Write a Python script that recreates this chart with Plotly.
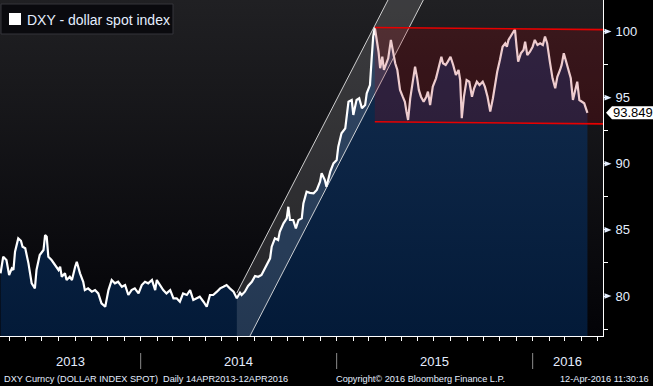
import plotly.graph_objects as go
import pandas as pd

# ---------------- data ----------------
dates = [
    "2013-04-15", "2013-04-20", "2013-04-26", "2013-05-01", "2013-05-06", "2013-05-09", "2013-05-12",
    "2013-05-18", "2013-05-23", "2013-05-26", "2013-05-31", "2013-06-06", "2013-06-12", "2013-06-18",
    "2013-06-21", "2013-06-27", "2013-07-04", "2013-07-07", "2013-07-10", "2013-07-13", "2013-07-19",
    "2013-07-25", "2013-08-01", "2013-08-04", "2013-08-07", "2013-08-13", "2013-08-16", "2013-08-22",
    "2013-08-26", "2013-09-01", "2013-09-04", "2013-09-10", "2013-09-16", "2013-09-19", "2013-09-25",
    "2013-10-02", "2013-10-08", "2013-10-14", "2013-10-20", "2013-10-27", "2013-11-02", "2013-11-08",
    "2013-11-14", "2013-11-20", "2013-11-27", "2013-12-03", "2013-12-09", "2013-12-15", "2013-12-21",
    "2013-12-28", "2014-01-03", "2014-01-09", "2014-01-15", "2014-01-22", "2014-01-28", "2014-01-31",
    "2014-02-06", "2014-02-12", "2014-02-18", "2014-02-25", "2014-03-03", "2014-03-09", "2014-03-15",
    "2014-03-21", "2014-03-28", "2014-04-03", "2014-04-09", "2014-04-15", "2014-04-21", "2014-04-28",
    "2014-05-04", "2014-05-10", "2014-05-16", "2014-05-23", "2014-05-29", "2014-06-04", "2014-06-10",
    "2014-06-16", "2014-06-23", "2014-06-29", "2014-07-05", "2014-07-08", "2014-07-14", "2014-07-20",
    "2014-07-27", "2014-08-02", "2014-08-08", "2014-08-14", "2014-08-17", "2014-08-24", "2014-08-30",
    "2014-09-02", "2014-09-08", "2014-09-14", "2014-09-17", "2014-09-24", "2014-09-30", "2014-10-03",
    "2014-10-06", "2014-10-12", "2014-10-17", "2014-10-22", "2014-10-28", "2014-10-31", "2014-11-06",
    "2014-11-12", "2014-11-19", "2014-11-25", "2014-12-01", "2014-12-04", "2014-12-10", "2014-12-13",
    "2014-12-20", "2014-12-26", "2015-01-01", "2015-01-04", "2015-01-10", "2015-01-17", "2015-01-20",
    "2015-01-23", "2015-01-29", "2015-02-01", "2015-02-07", "2015-02-12", "2015-02-17", "2015-02-23",
    "2015-02-26", "2015-03-04", "2015-03-07", "2015-03-10", "2015-03-13", "2015-03-17", "2015-03-20",
    "2015-03-23", "2015-03-27", "2015-03-30", "2015-04-04", "2015-04-07", "2015-04-12", "2015-04-15",
    "2015-04-20", "2015-04-24", "2015-04-29", "2015-05-04", "2015-05-08", "2015-05-11", "2015-05-14",
    "2015-05-18", "2015-05-23", "2015-05-27", "2015-05-31", "2015-06-03", "2015-06-07", "2015-06-12",
    "2015-06-17", "2015-06-20", "2015-06-24", "2015-06-29", "2015-07-05", "2015-07-10", "2015-07-15",
    "2015-07-18", "2015-07-23", "2015-07-27", "2015-08-01", "2015-08-06", "2015-08-11", "2015-08-16",
    "2015-08-19", "2015-08-22", "2015-08-26", "2015-08-31", "2015-09-05", "2015-09-10", "2015-09-14",
    "2015-09-19", "2015-09-24", "2015-09-30", "2015-10-04", "2015-10-09", "2015-10-14", "2015-10-19",
    "2015-10-23", "2015-10-27", "2015-11-01", "2015-11-06", "2015-11-11", "2015-11-14", "2015-11-17",
    "2015-11-21", "2015-11-26", "2015-11-29", "2015-12-02", "2015-12-05", "2015-12-10", "2015-12-15",
    "2015-12-18", "2015-12-22", "2015-12-27", "2016-01-01", "2016-01-05", "2016-01-10", "2016-01-15",
    "2016-01-20", "2016-01-24", "2016-01-28", "2016-02-02", "2016-02-07", "2016-02-12", "2016-02-16",
    "2016-02-21", "2016-02-24", "2016-02-28", "2016-03-03", "2016-03-07", "2016-03-12", "2016-03-16",
    "2016-03-20", "2016-03-24", "2016-03-28", "2016-04-01", "2016-04-06", "2016-04-12",
]
values = [
    81.72, 82.97, 82.72, 81.59, 82.09, 81.97, 83.35,
    84.36, 84.18, 83.73, 83.61, 82.47, 80.96, 80.58,
    81.97, 83.10, 83.48, 84.61, 84.48, 82.97, 82.72,
    82.34, 81.97, 82.22, 81.46, 81.72, 81.21, 81.46,
    81.21, 82.22, 82.59, 81.72, 81.08, 80.45, 80.58,
    80.33, 80.45, 80.20, 79.45, 79.19, 80.45, 81.21,
    80.96, 81.08, 80.70, 80.83, 80.08, 80.45, 80.58,
    80.20, 80.83, 81.08, 80.96, 81.21, 80.45, 81.21,
    80.83, 80.45, 80.20, 80.45, 79.83, 79.83, 79.57,
    80.20, 80.08, 80.45, 79.70, 79.83, 79.95, 79.57,
    79.19, 80.08, 80.08, 80.33, 80.58, 80.70, 80.83,
    80.58, 80.33, 79.83, 80.25, 80.08, 80.33, 80.76,
    81.08, 81.51, 81.46, 81.59, 81.84, 82.47, 82.85,
    83.73, 84.36, 84.23, 84.86, 85.50, 85.87, 86.75,
    85.75, 85.75, 85.12, 85.75, 85.87, 87.00, 87.89,
    87.80, 87.77, 88.02, 88.64, 89.28, 88.77, 88.26,
    89.40, 90.03, 90.28, 91.29, 92.30, 92.68, 93.56,
    94.69, 94.82, 93.69, 94.82, 94.95, 94.19, 94.44,
    95.33, 95.95, 97.85, 99.61, 100.30, 99.36, 98.47,
    97.22, 98.09, 97.09, 97.60, 97.97, 99.36, 98.60,
    97.60, 97.09, 95.58, 95.07, 94.69, 93.94, 93.31,
    94.95, 96.46, 97.34, 96.46, 95.58, 95.07, 94.69,
    95.07, 95.45, 94.44, 95.83, 96.46, 97.34, 98.09,
    97.60, 97.47, 97.72, 98.09, 97.47, 96.71, 97.09,
    96.33, 93.44, 95.07, 96.33, 96.20, 95.07, 95.71,
    96.20, 95.95, 96.20, 95.83, 95.07, 93.94, 94.95,
    96.08, 96.96, 97.85, 98.85, 99.11, 98.85, 99.36,
    99.61, 99.98, 100.17, 98.85, 97.72, 98.35, 98.60,
    99.23, 98.22, 98.47, 98.85, 99.36, 98.98, 99.11,
    98.98, 99.61, 99.11, 97.72, 96.46, 95.71, 96.58,
    97.09, 97.47, 98.35, 97.72, 97.22, 96.46, 94.82,
    95.58, 96.20, 94.82, 94.69, 94.57, 93.849,
]

series_name = "DXY - dollar spot index"
last_value = 93.849

x_range = ["2013-04-14", "2016-05-11"]
y_range = [76.98, 102.38]
y_tick_vals = [77.5, 80, 82.5, 85, 87.5, 90, 92.5, 95, 97.5, 100]
y_tick_text = ["", "80", "", "85", "", "90", "", "95", "", "100"]
y_major = [80, 85, 90, 95, 100]
year_labels = ["2013", "2014", "2015", "2016"]
year_starts = ["2014-01-01", "2015-01-01", "2016-01-01"]

footer_left = "DXY Curncy (DOLLAR INDEX SPOT)"
footer_period = "Daily 14APR2013-12APR2016"
footer_copy = "Copyright\u00a9 2016 Bloomberg Finance L.P."
footer_time = "12-Apr-2016 11:30:16"

# trend channel (drawn on chart)
channel_start = "2014-06-29"
channel_end = "2015-08-31"
channel_upper0 = 80.23
channel_slope = 0.07866      # index points per day
channel_width = 5.18

# range box (drawn on chart)
box_start = "2015-03-13"
box_top0 = 100.30
box_slope = -0.00038         # index points per day
box_height = 7.12

# ---------------- styles ----------------
TXT = "#e4eeff"
FONT = "Liberation Sans, Arial, sans-serif"
W, H = 653, 386
ML, MR, MT, MB = 0, 50, 0, 50
PW, PH = W - ML - MR, H - MT - MB


def px_x(p):
    return (p - ML) / PW


def px_y(p):
    return 1 - (p - MT) / PH


fig = go.Figure()

# background gradient of the plot area
fig.add_trace(go.Scatter(
    x=[x_range[0], x_range[1], x_range[1], x_range[0]],
    y=[y_range[0], y_range[0], y_range[1], y_range[1]],
    fill="toself", mode="lines", line=dict(width=0),
    fillgradient=dict(type="vertical", start=y_range[0], stop=y_range[1],
                      colorscale=[[0, "rgb(3,3,7)"], [1, "rgb(32,32,35)"]]),
    hoverinfo="skip", showlegend=False))

# the index with area fill
fig.add_trace(go.Scatter(
    x=dates, y=values, mode="lines", name=series_name,
    line=dict(color="white", width=2.2),
    fill="tozeroy",
    fillgradient=dict(type="vertical", start=y_range[0], stop=y_range[1],
                      colorscale=[[0, "rgb(3,26,56)"], [1, "rgb(20,46,80)"]]),
    showlegend=False))

# trend channel
t0, t1 = pd.Timestamp(channel_start), pd.Timestamp(channel_end)
nd = (t1 - t0).days
up0, up1 = channel_upper0, channel_upper0 + channel_slope * nd
lo0, lo1 = up0 - channel_width, up1 - channel_width
fig.add_trace(go.Scatter(
    x=[channel_start, channel_end, channel_end, channel_start, channel_start],
    y=[up0, up1, lo1, lo0, up0],
    fill="toself", fillcolor="rgba(255,255,255,0.13)", mode="lines", line=dict(width=0),
    hoverinfo="skip", showlegend=False))
for a, b in [(up0, up1), (lo0, lo1)]:
    fig.add_trace(go.Scatter(x=[channel_start, channel_end], y=[a, b], mode="lines",
                             line=dict(color="rgba(235,235,235,0.85)", width=1),
                             hoverinfo="skip", showlegend=False))

# range box
b0, b1 = pd.Timestamp(box_start), pd.Timestamp(x_range[1])
bd = (b1 - b0).days
top0, top1 = box_top0, box_top0 + box_slope * bd
bot0, bot1 = top0 - box_height, top1 - box_height
fig.add_trace(go.Scatter(
    x=[box_start, x_range[1], x_range[1], box_start, box_start],
    y=[top0, top1, bot1, bot0, top0],
    fill="toself", fillcolor="rgba(170,0,8,0.2)", mode="lines", line=dict(width=0),
    hoverinfo="skip", showlegend=False))
for a, b in [(top0, top1), (bot0, bot1)]:
    fig.add_trace(go.Scatter(x=[box_start, x_range[1]], y=[a, b], mode="lines",
                             line=dict(color="#e80000", width=1.6),
                             hoverinfo="skip", showlegend=False))

shapes = []
# legend box
shapes.append(dict(type="rect", xref="paper", yref="paper",
                   x0=px_x(1), x1=px_x(173), y0=px_y(34), y1=px_y(4),
                   fillcolor="rgb(10,10,14)", line=dict(color="rgb(52,52,58)", width=1), layer="above"))
shapes.append(dict(type="rect", xref="paper", yref="paper",
                   x0=px_x(9), x1=px_x(21), y0=px_y(25), y1=px_y(13),
                   fillcolor="white", line=dict(width=0), layer="above"))
# year separators
for ys in year_starts:
    shapes.append(dict(type="line", xref="x", yref="paper", x0=ys, x1=ys,
                       y0=px_y(369), y1=px_y(353), line=dict(color="#8c8c8c", width=1)))
# triangle markers at major y ticks
tri_h = 2.8 / (PH / (y_range[1] - y_range[0]))
for v in y_major:
    shapes.append(dict(type="path", xref="paper", yref="y",
                       path=f"M {px_x(604.5)},{v - tri_h} L {px_x(611.5)},{v} L {px_x(604.5)},{v + tri_h} Z",
                       fillcolor=TXT, line=dict(width=0), layer="above"))
# last value tag
tag_h = 6.5 / (PH / (y_range[1] - y_range[0]))
shapes.append(dict(type="path", xref="paper", yref="y",
                   path=(f"M {px_x(606)},{last_value} L {px_x(612)},{last_value + tag_h} "
                         f"L {px_x(653)},{last_value + tag_h} L {px_x(653)},{last_value - tag_h} "
                         f"L {px_x(612)},{last_value - tag_h} Z"),
                   fillcolor="white", line=dict(width=0), layer="above"))

annotations = []
annotations.append(dict(text=series_name, xref="paper", yref="paper", x=px_x(25), y=px_y(19.5),
                        xanchor="left", yanchor="middle", showarrow=False,
                        font=dict(family=FONT, size=14, color=TXT)))
annotations.append(dict(text=f"{last_value:.3f}", xref="paper", yref="y", x=px_x(632.5), y=last_value,
                        xanchor="center", yanchor="middle", showarrow=False,
                        font=dict(family=FONT, size=13, color="black")))
bounds = [pd.Timestamp(x_range[0])] + [pd.Timestamp(s) for s in year_starts] + [pd.Timestamp(x_range[1])]
for lab, a, b in zip(year_labels, bounds[:-1], bounds[1:]):
    mid = a + (b - a) / 2
    annotations.append(dict(text=lab, xref="x", yref="paper", x=mid.strftime("%Y-%m-%d"), y=px_y(361),
                            xanchor="center", yanchor="middle", showarrow=False,
                            font=dict(family=FONT, size=13, color=TXT)))
for txt, xp, anc in [(footer_left, 2, "left"), (footer_period, 161, "left"),
                     (footer_copy, 334, "left"), (footer_time, 651, "right")]:
    annotations.append(dict(text=txt, xref="paper", yref="paper", x=px_x(xp), y=px_y(379),
                            xanchor=anc, yanchor="middle", showarrow=False,
                            font=dict(family=FONT, size=9.2, color=TXT)))

fig.update_layout(
    width=W, height=H,
    margin=dict(l=ML, r=MR, t=MT, b=MB),
    paper_bgcolor="black", plot_bgcolor="black",
    showlegend=False,
    shapes=shapes, annotations=annotations,
    xaxis=dict(type="date", range=x_range, showgrid=False, zeroline=False,
               showline=True, linecolor="white", linewidth=1,
               ticks="outside", ticklen=4, tickwidth=1, tickcolor="white",
               dtick="M1", tick0="2013-01-01", showticklabels=False),
    yaxis=dict(side="right", range=y_range, showgrid=False, zeroline=False,
               showline=True, linecolor="white", linewidth=1,
               tickmode="array", tickvals=y_tick_vals, ticktext=y_tick_text,
               ticks="outside", ticklen=4, tickwidth=1, tickcolor="white",
               ticklabelstandoff=5,
               tickfont=dict(family=FONT, size=13, color=TXT)),
)

fig.write_html(
    "out.html",
    config={"displayModeBar": False},
    post_script="document.body.style.margin='0';document.body.style.overflow='hidden';",
)
